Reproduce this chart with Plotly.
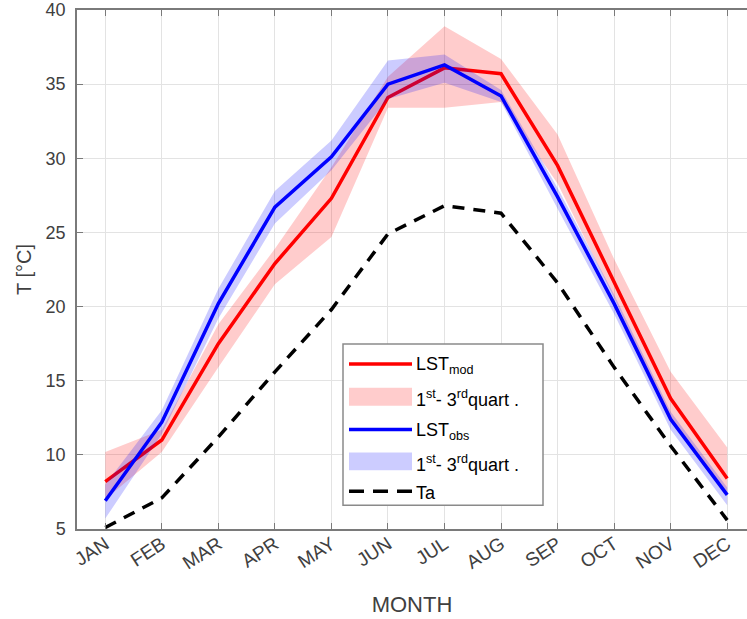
import plotly.graph_objects as go

months = ['JAN', 'FEB', 'MAR', 'APR', 'MAY', 'JUN', 'JUL', 'AUG', 'SEP', 'OCT', 'NOV', 'DEC']
lst_mod = [8.2, 11.0, 17.5, 22.9, 27.3, 34.1, 36.1, 35.7, 29.5, 21.6, 13.8, 8.4]
mod_q1 = [7.0, 10.2, 15.9, 21.5, 24.7, 33.4, 33.4, 33.8, 28.3, 20.6, 12.3, 7.5]
mod_q3 = [10.2, 11.7, 18.8, 23.9, 29.4, 35.5, 38.9, 36.7, 31.6, 23.2, 15.6, 10.5]
lst_obs = [6.9, 12.2, 20.2, 26.7, 30.1, 35.0, 36.3, 34.2, 27.4, 20.2, 12.4, 7.3]
obs_q1 = [5.7, 11.4, 19.2, 25.6, 29.2, 34.0, 35.1, 33.8, 26.6, 19.5, 11.7, 6.6]
obs_q3 = [8.0, 13.0, 21.2, 27.8, 31.2, 36.6, 37.0, 34.6, 28.0, 20.8, 12.9, 7.8]
ta = [5.1, 7.1, 11.2, 15.6, 19.8, 24.9, 26.8, 26.3, 21.6, 15.9, 10.6, 5.6]
yticks = [5, 10, 15, 20, 25, 30, 35, 40]

legend_labels = ['LST<sub>mod</sub>', '1<sup>st</sup>- 3<sup>rd</sup>quart .',
                 'LST<sub>obs</sub>', '1<sup>st</sup>- 3<sup>rd</sup>quart .', 'Ta']

RED = '#ff0000'
BLUE = '#0000ff'
RED_FILL = 'rgba(255,0,0,0.2)'
BLUE_FILL = 'rgba(0,0,255,0.2)'

fig = go.Figure()
fig.add_trace(go.Scatter(x=months + months[::-1], y=mod_q3 + mod_q1[::-1], fill='toself',
                         fillcolor=RED_FILL, mode='none', name=legend_labels[1], hoverinfo='skip'))
fig.add_trace(go.Scatter(x=months, y=lst_mod, mode='lines', line=dict(color=RED, width=3.5),
                         name=legend_labels[0]))
fig.add_trace(go.Scatter(x=months + months[::-1], y=obs_q3 + obs_q1[::-1], fill='toself',
                         fillcolor=BLUE_FILL, mode='none', name=legend_labels[3], hoverinfo='skip'))
fig.add_trace(go.Scatter(x=months, y=lst_obs, mode='lines', line=dict(color=BLUE, width=3.5),
                         name=legend_labels[2]))
fig.add_trace(go.Scatter(x=months, y=ta, mode='lines', line=dict(color='#000000', width=3.5, dash='12px,9px'),
                         name=legend_labels[4]))

# ---- manual legend (pixel layout converted to paper coordinates) ----
L, T, PW, PH = 77, 7, 670, 522


def px(xpix):
    return (xpix - L) / PW


def py(ypix):
    return (T + PH - ypix) / PH


shapes = []
annotations = []
shapes.append(dict(type='rect', xref='paper', yref='paper', x0=px(343), x1=px(543), y0=py(505), y1=py(343),
                   line=dict(color='#8a8a8a', width=1.5), fillcolor='white', layer='above'))
rows = [363, 396, 429, 461, 491]
styles = [('line', RED, 'solid'), ('fill', RED_FILL, None), ('line', BLUE, 'solid'),
          ('fill', BLUE_FILL, None), ('line', '#000000', '15px,9px')]
for yc, (kind, col, dash), lab in zip(rows, styles, legend_labels):
    if kind == 'line':
        shapes.append(dict(type='line', xref='paper', yref='paper', x0=px(349), x1=px(412),
                           y0=py(yc), y1=py(yc), line=dict(color=col, width=3.5, dash=dash), layer='above'))
    else:
        shapes.append(dict(type='rect', xref='paper', yref='paper', x0=px(349), x1=px(412),
                           y0=py(yc + 9), y1=py(yc - 9), line=dict(width=0), fillcolor=col, layer='above'))
    annotations.append(dict(xref='paper', yref='paper', x=px(414), y=py(yc + 2), text=lab, showarrow=False,
                            xanchor='left', yanchor='middle',
                            font=dict(family='Liberation Sans, Arial', size=18, color='#000000')))

axis_common = dict(showgrid=True, gridcolor='#e3e3e3', gridwidth=1, showline=True,
                   linecolor='#7a7a7a', linewidth=1.5, ticks='inside', ticklen=6,
                   tickcolor='#7a7a7a', zeroline=False)

fig.update_layout(
    width=747, height=619,
    margin=dict(l=77, r=0, t=7, b=90),
    paper_bgcolor='white', plot_bgcolor='white',
    font=dict(family='Liberation Sans, Arial', color='#404040'),
    xaxis=dict(type='category', categoryorder='array', categoryarray=months,
               range=[-0.5, 11.35], tickangle=-33, mirror='ticks', ticklabelstandoff=-5,
               tickfont=dict(family='Liberation Sans, Arial', size=19, color='#404040'),
               title=dict(text='MONTH', font=dict(size=22, color='#404040'), standoff=24),
               **axis_common),
    yaxis=dict(range=[5, 40], tickvals=yticks, mirror=False, ticklabeloverflow='allow',
               ticklabelstandoff=6,
               tickfont=dict(family='Liberation Sans, Arial', size=18, color='#404040'),
               title=dict(text='T [°C]', font=dict(size=20, color='#404040'), standoff=9),
               **axis_common),
    showlegend=False,
    shapes=shapes,
    annotations=annotations,
)

fig.write_html('out.html')
